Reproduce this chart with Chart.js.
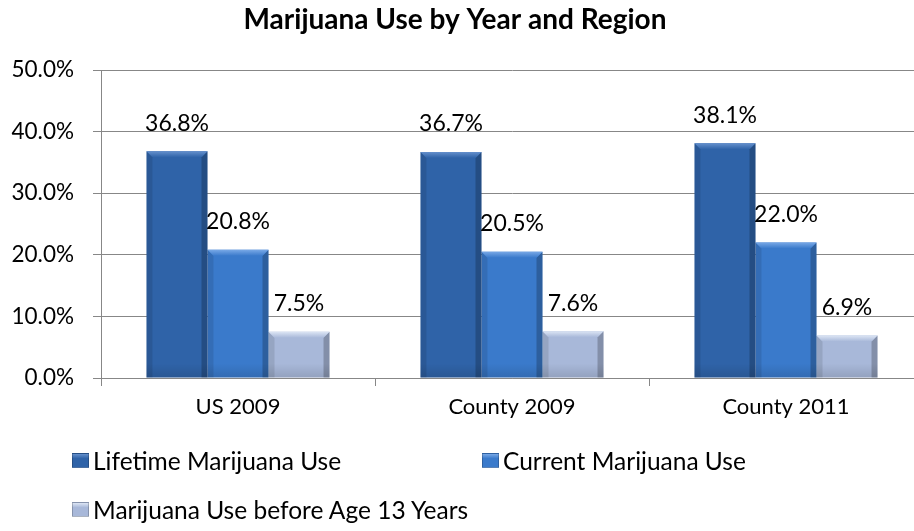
<!DOCTYPE html>
<html>
<head>
<meta charset="utf-8">
<script src="https://cdn.jsdelivr.net/npm/chart.js@4.4.1/dist/chart.umd.min.js"></script>
<style>
  html, body { margin: 0; padding: 0; background: #fff; overflow: hidden; }
  #wrap { position: relative; width: 914px; height: 531px; overflow: hidden; }
  #useChart { position: absolute; left: 0; top: 0; }
  .legend-item { position: absolute; display: flex; align-items: center; font: 24.5px Lato, sans-serif; color: #000; white-space: nowrap; }
  .legend-box { width: 17px; height: 15px; margin-right: 4px; box-sizing: border-box; }
</style>
</head>
<body>
<div id="wrap">
  <canvas id="useChart" width="942" height="531" style="width:942px;height:531px"></canvas>
  <div id="legend"></div>
</div>
<script>
// Survey data
const regions = ['US 2009', 'County 2009', 'County 2011'];
const lifetimeUse = [36.8, 36.7, 38.1];
const currentUse = [20.8, 20.5, 22.0];
const useBefore13 = [7.5, 7.6, 6.9];
const seriesNames = ['Lifetime Marijuana Use', 'Current Marijuana Use', 'Marijuana Use before Age 13 Years'];
const yTicks = [0, 10, 20, 30, 40, 50];

const barColors = ['#2F63A8', '#3A7ACB', '#A8B8D9'];
const bevelColors = ['#6590CC', '#78A8E6', '#DCE5F4'];

const axisGray = '#878787';
const fontFamily = 'Lato, sans-serif';

// beveled look on each bar + value labels above
const barBevel = {
  id: 'barBevel',
  afterLayout(chart) {
    // pull the title a little left of the canvas centre
    chart.titleBlock.right -= 13;
  },
  afterDatasetsDraw(chart) {
    const ctx = chart.ctx;
    chart.data.datasets.forEach((ds, di) => {
      const meta = chart.getDatasetMeta(di);
      meta.data.forEach((bar, i) => {
        const { x, y, base, width } = bar.getProps(['x', 'y', 'base', 'width'], true);
        const l = x - width / 2, r = x + width / 2;
        const b = 6;
        ctx.save();
        // left edge
        ctx.fillStyle = 'rgba(0,0,0,0.10)';
        ctx.beginPath();
        ctx.moveTo(l, y); ctx.lineTo(l + b, y + b); ctx.lineTo(l + b, base); ctx.lineTo(l, base);
        ctx.closePath(); ctx.fill();
        // right edge
        ctx.fillStyle = 'rgba(0,0,0,0.22)';
        ctx.beginPath();
        ctx.moveTo(r, y); ctx.lineTo(r - b, y + b); ctx.lineTo(r - b, base); ctx.lineTo(r, base);
        ctx.closePath(); ctx.fill();
        // top bevel
        const g = ctx.createLinearGradient(0, y, 0, y + b);
        g.addColorStop(0, bevelColors[di]);
        g.addColorStop(1, ds.backgroundColor);
        ctx.fillStyle = g;
        ctx.beginPath();
        ctx.moveTo(l, y); ctx.lineTo(r, y); ctx.lineTo(r - b, y + b); ctx.lineTo(l + b, y + b);
        ctx.closePath(); ctx.fill();
        // bottom shade
        const s = ctx.createLinearGradient(0, base - 14, 0, base);
        s.addColorStop(0, 'rgba(0,0,0,0)');
        s.addColorStop(1, 'rgba(0,0,0,0.12)');
        ctx.fillStyle = s;
        ctx.fillRect(l, base - 14, width, 14);
        ctx.restore();

        // value label
        ctx.save();
        ctx.font = '23px ' + fontFamily;
        ctx.fillStyle = '#000';
        ctx.textAlign = 'center';
        ctx.textBaseline = 'middle';
        ctx.fillText(ds.data[i].toFixed(1) + '%', x, y - 28);
        ctx.restore();
      });
    });
  }
};

const ctx = document.getElementById('useChart').getContext('2d');
const useChart = new Chart(ctx, {
  type: 'bar',
  data: {
    labels: regions,
    datasets: [
      { label: seriesNames[0], data: lifetimeUse, backgroundColor: barColors[0] },
      { label: seriesNames[1], data: currentUse, backgroundColor: barColors[1] },
      { label: seriesNames[2], data: useBefore13, backgroundColor: barColors[2] }
    ]
  },
  options: {
    responsive: false,
    animation: false,
    categoryPercentage: 0.668,
    barPercentage: 1.0,
    layout: { padding: { left: 0, right: 19, top: 0, bottom: 102.6 } },
    plugins: {
      legend: { display: false },
      tooltip: { enabled: false },
      title: {
        display: true,
        text: 'Marijuana Use by Year and Region',
        color: '#000',
        font: { family: fontFamily, size: 28, weight: 'bold' },
        padding: { top: 3, bottom: 33.4 }
      }
    },
    scales: {
      x: {
        grid: { drawOnChartArea: false, drawTicks: true, tickLength: 8, color: axisGray },
        border: { color: axisGray },
        ticks: { color: '#000', padding: 8, font: { family: fontFamily, size: 22 } }
      },
      y: {
        min: yTicks[0],
        max: yTicks[yTicks.length - 1],
        afterFit(scale) { scale.width = 101; },
        afterBuildTicks(scale) { scale.ticks = yTicks.map(v => ({ value: v })); },
        grid: { color: axisGray, tickLength: 8 },
        border: { color: axisGray },
        ticks: {
          color: '#000',
          padding: 19,
          font: { family: fontFamily, size: 22.5 },
          callback: v => v.toFixed(1) + '%'
        }
      }
    }
  },
  plugins: [barBevel]
});

// legend built from the datasets
const legendSpots = [[72, 460], [482, 460], [72, 509]];
const legendEl = document.getElementById('legend');
useChart.data.datasets.forEach((ds, i) => {
  const item = document.createElement('div');
  item.className = 'legend-item';
  item.style.left = legendSpots[i][0] + 'px';
  item.style.top = (legendSpots[i][1] - 15) + 'px';
  item.style.height = '30px';
  const box = document.createElement('span');
  box.className = 'legend-box';
  box.style.background = `linear-gradient(to bottom, ${bevelColors[i]} 0%, ${ds.backgroundColor} 35%, ${ds.backgroundColor} 100%)`;
  box.style.border = '1px solid rgba(0,0,0,0.2)';
  const txt = document.createElement('span');
  txt.textContent = ds.label;
  item.appendChild(box);
  item.appendChild(txt);
  legendEl.appendChild(item);
});
</script>
</body>
</html>
